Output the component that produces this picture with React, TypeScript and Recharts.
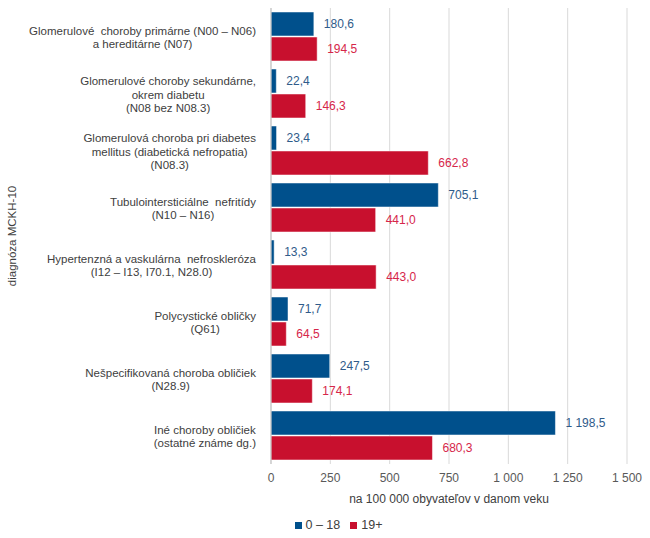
import React from 'react'
import { BarChart, Bar, XAxis, YAxis, CartesianGrid, Legend, LabelList } from 'recharts'

const categories = [
  'Glomerulové  choroby primárne (N00 – N06)\na hereditárne (N07)',
  'Glomerulové choroby sekundárne,\nokrem diabetu\n(N08 bez N08.3)',
  'Glomerulová choroba pri diabetes\nmellitus (diabetická nefropatia)\n(N08.3)',
  'Tubulointersticiálne  nefritídy\n(N10 – N16)',
  'Hypertenzná a vaskulárna  nefroskleróza\n(I12 – I13, I70.1, N28.0)',
  'Polycystické obličky\n(Q61)',
  'Nešpecifikovaná choroba obličiek\n(N28.9)',
  'Iné choroby obličiek\n(ostatné známe dg.)',
]
const kids = [180.6, 22.4, 23.4, 705.1, 13.3, 71.7, 247.5, 1198.5]
const adults = [194.5, 146.3, 662.8, 441.0, 443.0, 64.5, 174.1, 680.3]
const xTicks = [0, 250, 500, 750, 1000, 1250, 1500]

const BLUE = '#00508c'
const RED = '#c8102e'
const FONT = '"Liberation Sans", Arial, sans-serif'
const TICK_SIZE = 11.5

const data = categories.map((name, i) => ({ name, kids: kids[i], adults: adults[i] }))

// cislo po slovensky: medzera na tisicky, ciarka na desatiny
const fmt = (v: number, dec = 1) => {
  const [a, b] = v.toFixed(dec).split('.')
  const int = a.replace(/\B(?=(\d{3})+(?!\d))/g, '\u00a0')
  return b ? `${int},${b}` : int
}

let ctx: CanvasRenderingContext2D | null = null
const measure = (s: string) => {
  if (!ctx) ctx = document.createElement('canvas').getContext('2d')
  if (!ctx) return s.length * 5.8
  ctx.font = `${TICK_SIZE}px ${FONT}`
  return ctx.measureText(s).width
}

const CategoryTick = (props: any) => {
  const { x, y, payload } = props
  const lines: string[] = String(payload.value).split('\n')
  const w = Math.max(...lines.map(measure))
  const cx = x - 7 - w / 2
  const lh = 13.5
  return (
    <g>
      {lines.map((l, i) => (
        <text key={i} x={cx} y={y + (i - (lines.length - 1) / 2) * lh + 1} dy="0.35em" textAnchor="middle" fontSize={TICK_SIZE} fill="#404040" fontFamily={FONT} style={{ whiteSpace: 'pre' }}>
          {l}
        </text>
      ))}
    </g>
  )
}

export default function App() {
  return (
    <div style={{ position: 'absolute', left: 0, top: 0, width: 650, height: 538, background: '#fff' }}>
      <BarChart
        width={650}
        height={538}
        data={data}
        layout="vertical"
        margin={{ top: 8, right: 23, bottom: 16, left: 0 }}
        barCategoryGap="7%"
        barGap={1}
      >
        <CartesianGrid horizontal={false} stroke="#d9d9d9" />
        <XAxis
          type="number"
          domain={[0, 1500]}
          ticks={xTicks}
          tickFormatter={(v: number) => fmt(v, 0)}
          axisLine={false}
          tickLine={false}
          height={44}
          tick={{ fontSize: 12, fill: '#595959', fontFamily: FONT }}
          tickMargin={3}
          label={{ value: 'na 100 000 obyvateľov  v danom veku', position: 'insideBottom', offset: 5, fontSize: 12, fill: '#404040', fontFamily: FONT, style: { whiteSpace: 'pre' } }}
        />
        <YAxis
          type="category"
          dataKey="name"
          width={271}
          axisLine={{ stroke: '#bfbfbf' }}
          tickLine={false}
          tick={<CategoryTick />}
          interval={0}
          label={{ value: 'diagnóza MCKH-10', angle: -90, position: 'insideLeft', offset: 12, fontSize: 11.5, fill: '#404040', fontFamily: FONT, style: { textAnchor: 'middle' } }}
        />
        <Legend
          verticalAlign="bottom"
          iconType="square"
          iconSize={7}
          wrapperStyle={{ fontSize: 12.5, fontFamily: FONT, color: '#404040', paddingLeft: 30, bottom: 6 }}
          formatter={(v: string) => <span style={{ color: '#404040' }}>{v}</span>}
        />
        <Bar dataKey="kids" name="0 – 18" fill={BLUE} stroke="#fff" strokeWidth={0.5} isAnimationActive={false}>
          <LabelList dataKey="kids" position="right" offset={10} formatter={(v: any) => fmt(Number(v))} fill="#2f5b8a" fontSize={12} fontFamily={FONT} />
        </Bar>
        <Bar dataKey="adults" name="19+" fill={RED} stroke="#fff" strokeWidth={0.5} isAnimationActive={false}>
          <LabelList dataKey="adults" position="right" offset={10} formatter={(v: any) => fmt(Number(v))} fill="#d6264a" fontSize={12} fontFamily={FONT} />
        </Bar>
      </BarChart>
    </div>
  )
}
